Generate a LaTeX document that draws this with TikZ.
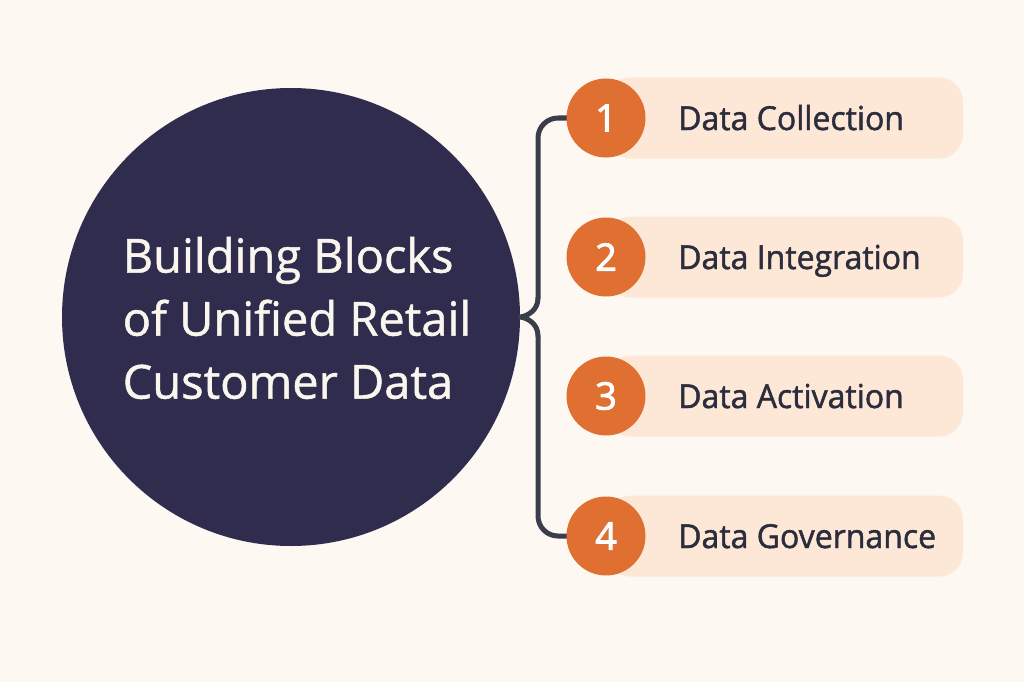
\documentclass[tikz,border=0pt]{standalone}
\usepackage{fontspec}
\setmainfont{Open Sans}
\newfontfamily\titlefont[FakeBold=1.0]{Open Sans}
\newfontfamily\labelfont[FakeBold=1.4,FakeStretch=0.97]{Open Sans}
\newfontfamily\numfont[FakeBold=2.2]{Open Sans}
\definecolor{bgc}{HTML}{FDF8F2}
\definecolor{navy}{HTML}{302C4E}
\definecolor{orng}{HTML}{E06F32}
\definecolor{peach}{HTML}{FDE8D8}
\definecolor{linec}{HTML}{3A3D4A}
\definecolor{txtd}{HTML}{2B2D3C}
\definecolor{ttlc}{HTML}{FAF6EE}
\tikzset{
  itembox/.style={rectangle, rounded corners=24pt, fill=peach, minimum width=357pt, minimum height=81pt, inner sep=0pt},
  numdot/.style={circle, fill=orng, minimum size=79pt, inner sep=0pt, text=white, font=\numfont\fontsize{38}{40}\selectfont},
  itemlabel/.style={anchor=base west, text=txtd, inner sep=0pt, font=\labelfont\fontsize{33}{36}\selectfont},
  conn/.style={draw=linec, line width=5pt, line cap=round, line join=round},
}
\begin{document}
\begin{tikzpicture}[x=1pt,y=-1pt]
\useasboundingbox[fill=bgc] (0,0) rectangle (1024,682);
\node[circle, fill=navy, minimum size=458pt, inner sep=0pt] (main) at (291,317) {};
\node[text=ttlc, align=left, inner sep=0pt, font=\titlefont\fontsize{47}{63}\selectfont] (title) at (297,318) {Building Blocks\\of Unified Retail\\Customer Data};
% bracket coordinates
\coordinate (bt) at (538,298);
\coordinate (bb) at (538,336);
\coordinate (c1) at (538,118);
\coordinate (c4) at (538,536);
% boxes
\foreach \i/\y/\t in {1/118/Data Collection, 2/257/Data Integration, 3/396/Data Activation, 4/536/Data Governance}{
  \node[itembox] (b\i) at (784.5,\y) {};
  \node[itemlabel] (l\i) at (678,\y+12) {\t};
}
\draw[conn, rounded corners=20pt] (606,118) -- (c1) -- (bt);
\draw[conn] (bt) .. controls (538,310) and (528,316) .. (main.east) .. controls (528,318) and (538,324) .. (bb);
\draw[conn, rounded corners=20pt] (bb) -- (c4) -- (606,536);
\foreach \i/\y in {1/118, 2/257, 3/396, 4/536}{
  \node[numdot] (n\i) at (606,\y) {\i};
}
\end{tikzpicture}
\end{document}
